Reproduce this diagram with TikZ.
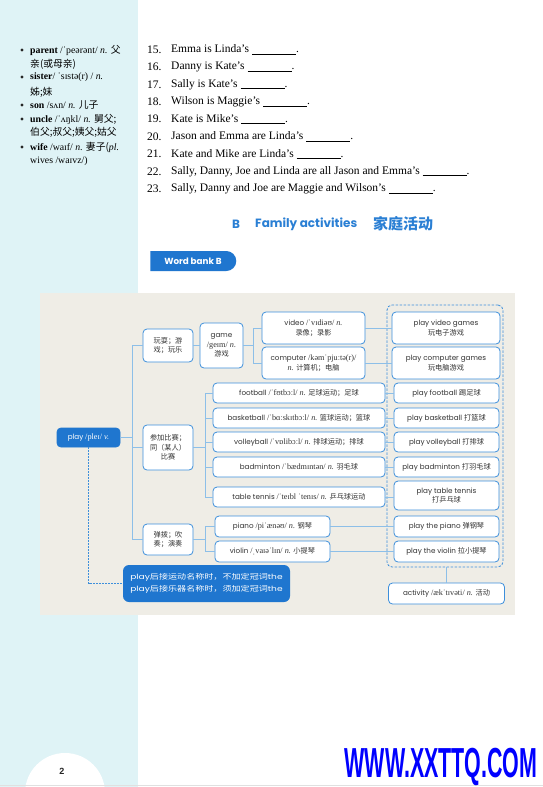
\documentclass[tikz,border=0pt]{standalone}
\usepackage{fontspec}
\setmainfont{Liberation Serif}
\newfontfamily\dsans{Poppins}
\newfontfamily\cjk{Noto Sans CJK SC}
\newfontfamily\ipafont{Liberation Serif}
\newfontfamily\wmfont{Liberation Sans}
\usetikzlibrary{shapes.misc}
\newcommand\zh[1]{{\cjk #1}}
\newcommand\ph[1]{{\ipafont\fontsize{8.2}{9.5}\selectfont #1}}
\newcommand\blank{\rule[-1.5pt]{44pt}{0.4pt}}
\definecolor{boxblue}{HTML}{3D8FDB}
\definecolor{connblue}{HTML}{8DBFE8}
\definecolor{darkblue}{HTML}{1F76CF}
\definecolor{titleblue}{HTML}{2A7FD4}
\definecolor{pagecyan}{HTML}{DFF3F6}
\definecolor{diagbg}{HTML}{EFEDE6}
\definecolor{wmblue}{HTML}{0000FF}
\begin{document}
\begin{tikzpicture}[x=1pt,y=-1pt,
  box/.style={draw=boxblue, line width=0.8pt, rounded corners=4pt, fill=white,
    inner sep=1pt, align=center, text=black!80,
    font=\dsans\fontsize{7.2}{9.5}\selectfont},
  conn/.style={draw=connblue, line width=0.8pt},
  qnum/.style={anchor=west, inner sep=0pt, font=\fontsize{11.5}{12}\selectfont},
  qtext/.style={anchor=west, inner sep=0pt, font=\fontsize{11.5}{12}\selectfont},
  vocab/.style={anchor=west, inner sep=0pt, font=\fontsize{9.8}{10}\selectfont}
]
\useasboundingbox (0,0) rectangle (543,787);
\fill[white] (0,0) rectangle (543,787);
% page background
\fill[pagecyan] (0,0) rectangle (138,787);
\fill[white] (65,793) circle (40pt);
\draw[black!12, line width=0.6pt] (0,785) -- (543,785);

% vocabulary list
\foreach \yy in {50,77,105,119,147} {\fill[black!85] (22,\yy) circle (1.7pt);}
\node[vocab] (v1) at (30,50) {\textbf{parent} /ˈpeərənt/ \textit{n.} \zh{父}};
\node[vocab] (v2) at (30,64) {\zh{亲(或母亲)}};
\node[vocab] (v3) at (30,77) {\textbf{sister}/ ˈsɪstə(r) / \textit{n.}};
\node[vocab] (v4) at (30,92) {\zh{姊;妹}};
\node[vocab] (v5) at (30,105) {\textbf{son} /sʌn/ \textit{n.} \zh{儿子}};
\node[vocab] (v6) at (30,119) {\textbf{uncle} /ˈʌŋkl/ \textit{n.} \zh{舅父;}};
\node[vocab] (v7) at (30,132) {\zh{伯父;叔父;姨父;姑父}};
\node[vocab] (v8) at (30,147) {\textbf{wife} /waɪf/ \textit{n.} \zh{妻子(}\textit{pl.}};
\node[vocab] (v9) at (30,161) {wives /waɪvz/)};

% questions
\node[qnum] (n15) at (147,49.5) {15.};  \node[qtext] (q15) at (171,49.5) {Emma is Linda’s \blank.};
\node[qnum] (n16) at (147,67) {16.};    \node[qtext] (q16) at (171,67) {Danny is Kate’s \blank.};
\node[qnum] (n17) at (147,84.5) {17.};  \node[qtext] (q17) at (171,84.5) {Sally is Kate’s \blank.};
\node[qnum] (n18) at (147,102) {18.};   \node[qtext] (q18) at (171,102) {Wilson is Maggie’s \blank.};
\node[qnum] (n19) at (147,119) {19.};   \node[qtext] (q19) at (171,119) {Kate is Mike’s \blank.};
\node[qnum] (n20) at (147,136.5) {20.}; \node[qtext] (q20) at (171,136.5) {Jason and Emma are Linda’s \blank.};
\node[qnum] (n21) at (147,154) {21.};   \node[qtext] (q21) at (171,154) {Kate and Mike are Linda’s \blank.};
\node[qnum] (n22) at (147,171.5) {22.}; \node[qtext] (q22) at (171,171.5) {Sally, Danny, Joe and Linda are all Jason and Emma’s \blank.};
\node[qnum] (n23) at (147,189) {23.};   \node[qtext] (q23) at (171,189) {Sally, Danny and Joe are Maggie and Wilson’s \blank.};

% title
\node[anchor=west, inner sep=0pt, text=titleblue, font=\dsans\bfseries\fontsize{12}{13}\selectfont] (tB) at (232,224) {B};
\node[anchor=west, inner sep=0pt, text=titleblue, font=\dsans\bfseries\fontsize{12}{13}\selectfont] (tF) at (255,224) {Family activities};
\node[anchor=west, inner sep=0pt, text=titleblue, font=\cjk\bfseries\fontsize{15}{15}\selectfont] (tZ) at (373,224) {家庭活动};
\node[rounded rectangle, rounded rectangle left arc=none, fill=darkblue, minimum width=86pt, minimum height=20pt, inner sep=0pt, text=white, font=\dsans\bfseries\fontsize{8.8}{10}\selectfont] (wb) at (193,261) {Word bank B};

% diagram background
\fill[diagbg] (40,293) rectangle (515,615);

% trunk coordinates
\coordinate (t1) at (132,0);
\coordinate (t2) at (253,0);
\coordinate (t3) at (205,0);

% dashed group
\node[draw=boxblue, line width=0.8pt, dash pattern=on 2.5pt off 1.5pt, rounded corners=5pt, minimum width=116pt, minimum height=262pt, inner sep=0pt] (dbox) at (445,436) {};

% nodes
\node[box, fill=darkblue, draw=darkblue, text=white, minimum width=63pt, minimum height=19pt] (play) at (88.5,437.5) {play \ph{/pleɪ/ \textit{v.}}};
\node[box, minimum width=50pt, minimum height=33pt] (wan) at (168,345.5) {\zh{玩耍；游}\\\zh{戏；玩乐}};
\node[box, minimum width=50pt, minimum height=45pt] (canjia) at (168,447.5) {\zh{参加比赛；}\\\zh{同（某人）}\\\zh{比赛}};
\node[box, minimum width=50pt, minimum height=31pt] (tanbo) at (168,539.5) {\zh{弹拨；吹}\\\zh{奏；演奏}};
\node[box, minimum width=43pt, minimum height=45pt] (game) at (221.5,345.5) {game\\\ph{/geɪm/ \textit{n.}}\\\zh{游戏}};
\node[box, minimum width=103pt, minimum height=32pt] (video) at (313.5,328) {video \ph{/ˈvɪdiəʊ/ \textit{n.}}\\\zh{录像；录影}};
\node[box, minimum width=103pt, minimum height=32pt] (computer) at (313.5,363) {computer \ph{/kəmˈpjuːtə(r)/}\\\ph{\textit{n.}} \zh{计算机；电脑}};
\node[box, minimum width=108pt, minimum height=32pt] (pvg) at (446,328) {play video games\\\zh{玩电子游戏}};
\node[box, minimum width=108pt, minimum height=32pt] (pcg) at (446,363) {play computer games\\\zh{玩电脑游戏}};

\node[box, minimum width=172pt, minimum height=20pt] (football) at (299,393) {football \ph{/ˈfʊtbɔːl/ \textit{n.}} \zh{足球运动；足球}};
\node[box, minimum width=172pt, minimum height=20pt] (basketball) at (299,418) {basketball \ph{/ˈbɑːskɪtbɔːl/ \textit{n.}} \zh{篮球运动；篮球}};
\node[box, minimum width=172pt, minimum height=20pt] (volleyball) at (299,442) {volleyball \ph{/ˈvɒlibɔːl/ \textit{n.}} \zh{排球运动；排球}};
\node[box, minimum width=172pt, minimum height=20pt] (badminton) at (299,467) {badminton \ph{/ˈbædmɪntən/ \textit{n.}} \zh{羽毛球}};
\node[box, minimum width=172pt, minimum height=20pt] (tennis) at (299,497) {table tennis \ph{/ˈteɪbl ˈtenɪs/ \textit{n.}} \zh{乒乓球运动}};
\node[box, minimum width=115pt, minimum height=21pt] (piano) at (272.5,526.5) {piano \ph{/piˈænəʊ/ \textit{n.}} \zh{钢琴}};
\node[box, minimum width=115pt, minimum height=21pt] (violin) at (272.5,551.5) {violin \ph{/ˌvaɪəˈlɪn/ \textit{n.}} \zh{小提琴}};

\node[box, minimum width=105pt, minimum height=20pt] (pf) at (446.5,393) {play football \zh{踢足球}};
\node[box, minimum width=105pt, minimum height=20pt] (pb) at (446.5,418) {play basketball \zh{打篮球}};
\node[box, minimum width=105pt, minimum height=20pt] (pv) at (446.5,442) {play volleyball \zh{打排球}};
\node[box, minimum width=105pt, minimum height=20pt] (pbad) at (446.5,467) {play badminton \zh{打羽毛球}};
\node[box, minimum width=105pt, minimum height=29pt] (ptt) at (446.5,495.5) {play table tennis\\\zh{打乒乓球}};
\node[box, minimum width=105pt, minimum height=21pt] (ppiano) at (446.5,526.5) {play the piano \zh{弹钢琴}};
\node[box, minimum width=105pt, minimum height=21pt] (pviolin) at (446.5,551.5) {play the violin \zh{拉小提琴}};
\node[box, minimum width=116pt, minimum height=21pt] (activity) at (446.5,593.5) {activity \ph{/ækˈtɪvəti/ \textit{n.}} \zh{活动}};

\node[fill=darkblue, rounded corners=6pt, minimum width=167pt, minimum height=37pt, inner sep=0pt, text=white, align=left, font=\dsans\fontsize{7.2}{11.5}\selectfont] (note) at (206.5,583.5)
  {\scalebox{1.26}[1]{play\zh{后接运动名称时，不加定冠词}the}\\\scalebox{1.26}[1]{play\zh{后接乐器名称时，须加定冠词}the}};

% connectors
\draw[conn] (play.east) -- (play.east -| t1);
\draw[conn] (wan.west) -| (t1 |- tanbo.west) -- (tanbo.west);
\draw[conn] (canjia.west) -- (canjia.west -| t1);
\draw[conn] (wan.east) -- (game.west);
\draw[conn] (game.east) -- (game.east -| t2);
\draw[conn] (video.west) -| (t2 |- computer.west) -- (computer.west);
\draw[conn] (video.east) -- (pvg.west);
\draw[conn] (computer.east) -- (pcg.west);
\draw[conn] (canjia.east) -- (canjia.east -| t3);
\draw[conn] (football.west) -| (t3 |- tennis.west) -- (tennis.west);
\draw[conn] (basketball.west) -- (basketball.west -| t3);
\draw[conn] (volleyball.west) -- (volleyball.west -| t3);
\draw[conn] (badminton.west) -- (badminton.west -| t3);
\draw[conn] (tanbo.east) -- (tanbo.east -| t3);
\draw[conn] (piano.west) -| (t3 |- violin.west) -- (violin.west);
\draw[conn] (football.east) -- (pf.west);
\draw[conn] (basketball.east) -- (pb.west);
\draw[conn] (volleyball.east) -- (pv.west);
\draw[conn] (badminton.east) -- (pbad.west);
\draw[conn] (tennis.east) -- (tennis.east -| ptt.west);
\draw[conn] (piano.east) -- (ppiano.west);
\draw[conn] (violin.east) -- (pviolin.west);
\draw[conn] (dbox.south -| activity.north) -- (activity.north);
\draw[boxblue, line width=0.7pt, dash pattern=on 1.5pt off 1.5pt] (play.south) |- (note.west);

% footer
\node[inner sep=0pt, font=\wmfont\bfseries\fontsize{9}{9}\selectfont, text=black!85] (pnum) at (62,771) {2};
\node[inner sep=0pt, text=wmblue, font=\wmfont\bfseries\fontsize{42}{42}\selectfont] (wm) at (441,767) {\scalebox{0.51}[1]{WWW.XXTTQ.COM}};
\end{tikzpicture}
\end{document}
